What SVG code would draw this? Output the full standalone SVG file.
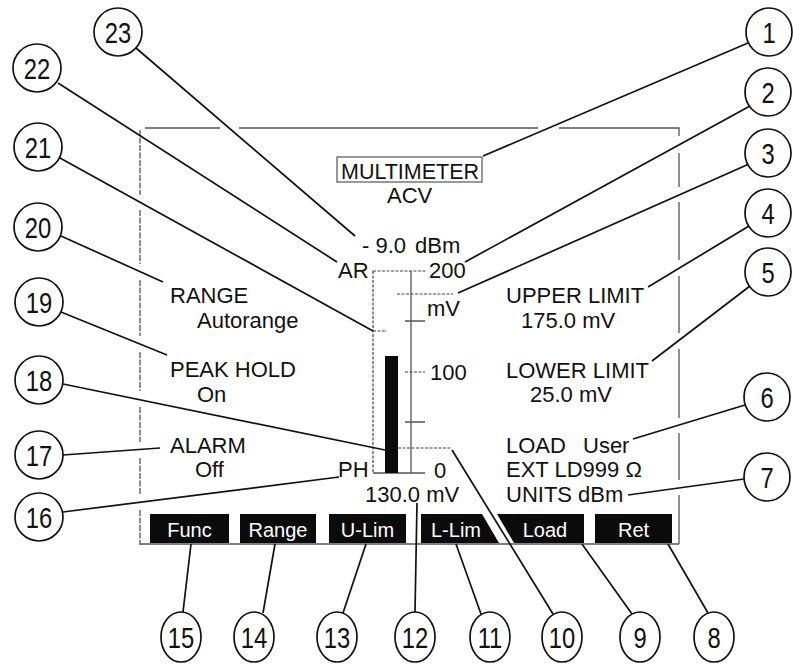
<svg xmlns="http://www.w3.org/2000/svg" width="793" height="664" viewBox="0 0 793 664">
<style>
.bg{fill:#fff}
.frame{fill:none;stroke:#555;stroke-width:1.3}
.dot{fill:none;stroke:#444;stroke-width:1.2;stroke-dasharray:3 1.5}
.axis{fill:none;stroke:#555;stroke-width:1.3}
.lbl{font-family:"Liberation Sans",Arial,sans-serif;font-size:22px;fill:#111}
.btn path{fill:#0b0b0b}
.btxt{font-family:"Liberation Sans",Arial,sans-serif;font-size:20px;fill:#fff;text-anchor:middle}
.num ellipse{fill:#fff;stroke:#111;stroke-width:1.7}
.num text{font-family:"Liberation Sans",Arial,sans-serif;font-size:29px;fill:#111;text-anchor:middle}
.lead line{stroke:#111;stroke-width:1.7}
</style>
<rect class="bg" x="0" y="0" width="793" height="664"/>

<g id="screen-frame">
<path class="frame" d="M145,128 H220 M239,128 H538 M559,128 H679 V136 M679,153 V187 M679,202 V260 M679,276 V333 M679,349 V418 M679,433 V480 M679,495 V544"/>
<path class="frame" stroke-dasharray="6 1.5" d="M140,130 V195 M140,210 V264 M140,280 V336 M140,352 V391 M140,407 V442 M140,458 V494 M140,510 V545"/>
<path class="frame" d="M140,544 H679"/>
</g>

<g id="title">
<rect x="337" y="157" width="145" height="25" fill="none" stroke="#555" stroke-width="1.2"/>
<text class="lbl" x="341" y="179" textLength="138" lengthAdjust="spacingAndGlyphs">MULTIMETER</text>
<text class="lbl" x="387" y="203">ACV</text>
</g>

<g id="reading">
<text class="lbl" x="362" y="253">- 9.0<tspan x="415">dBm</tspan></text>
<text class="lbl" x="338" y="278">AR</text>
<text class="lbl" x="338" y="477">PH</text>
<text class="lbl" x="365" y="502">130.0 mV</text>
</g>

<g id="bargraph">
<path class="dot" d="M373,271 H427"/>
<path class="dot" d="M373,271 V473"/>
<path class="axis" d="M411,271 V473 M373,473 H425"/>
<path class="axis" d="M405,321 H425 M405,422 H425"/>
<path class="dot" d="M405,372 H425 M373,331 H387"/>
<path class="dot" stroke-dasharray="5 5" d="M397,294 H453 M398,448 H452"/>
<rect x="385" y="356" width="13" height="117" fill="#0b0b0b"/>
<text class="lbl" x="429" y="278">200</text>
<text class="lbl" x="427" y="316">mV</text>
<text class="lbl" x="430" y="380">100</text>
<text class="lbl" x="434" y="478">0</text>
</g>

<g id="left-settings">
<text class="lbl" x="170" y="303">RANGE</text>
<text class="lbl" x="197" y="328">Autorange</text>
<text class="lbl" x="170" y="377">PEAK HOLD</text>
<text class="lbl" x="197" y="402">On</text>
<text class="lbl" x="170" y="453">ALARM</text>
<text class="lbl" x="195" y="477">Off</text>
</g>

<g id="right-settings">
<text class="lbl" x="506" y="303">UPPER LIMIT</text>
<text class="lbl" x="521" y="328">175.0 mV</text>
<text class="lbl" x="506" y="378">LOWER LIMIT</text>
<text class="lbl" x="530" y="402">25.0 mV</text>
<text class="lbl" x="506" y="453">LOAD<tspan x="583">User</tspan></text>
<text class="lbl" x="506" y="477">EXT LD999 Ω</text>
<text class="lbl" x="506" y="502">UNITS dBm</text>
</g>

<g id="softkeys">
<g id="key-func" class="btn"><path d="M150,514 H229 V543 H150 Z"/><text class="btxt" x="189.5" y="537">Func</text></g>
<g id="key-range" class="btn"><path d="M240,514 H316 V543 H240 Z"/><text class="btxt" x="278" y="537">Range</text></g>
<g id="key-ulim" class="btn"><path d="M329,514 H406 V543 H329 Z"/><text class="btxt" x="367.5" y="537">U-Lim</text></g>
<g id="key-llim" class="btn"><path d="M421,514 H482 L499,543 H421 Z"/><text class="btxt" x="456" y="537">L-Lim</text></g>
<g id="key-load" class="btn"><path d="M497,514 H584 V543 H514 Z"/><text class="btxt" x="545" y="537">Load</text></g>
<g id="key-ret" class="btn"><path d="M595,514 H672 V543 H595 Z"/><text class="btxt" x="633.5" y="537">Ret</text></g>
</g>

<g id="connectors" class="lead">
<line x1="748" y1="43" x2="483" y2="156"/>
<line x1="750" y1="106" x2="465" y2="262"/>
<line x1="749" y1="164" x2="458" y2="293"/>
<line x1="749" y1="226" x2="648" y2="287"/>
<line x1="750" y1="286" x2="652" y2="361"/>
<line x1="745" y1="405" x2="633" y2="439"/>
<line x1="744" y1="479" x2="628" y2="495"/>
<line x1="668" y1="544" x2="708" y2="613"/>
<line x1="582" y1="544" x2="632" y2="614"/>
<line x1="452" y1="450" x2="553" y2="614"/>
<line x1="456" y1="544" x2="481" y2="614"/>
<line x1="415" y1="612" x2="417" y2="503"/>
<line x1="366" y1="544" x2="343" y2="613"/>
<line x1="275" y1="544" x2="263" y2="613"/>
<line x1="191" y1="544" x2="183" y2="612"/>
<line x1="136" y1="48" x2="355" y2="236"/>
<line x1="58" y1="83" x2="337" y2="262"/>
<line x1="60" y1="158" x2="373" y2="331"/>
<line x1="61" y1="236" x2="163" y2="282"/>
<line x1="61" y1="312" x2="167" y2="355"/>
<line x1="63" y1="384" x2="385" y2="450"/>
<line x1="63" y1="455" x2="160" y2="448"/>
<line x1="63" y1="512" x2="339" y2="477"/>
</g>

<g id="callouts">
<g id="c1" class="num" transform="translate(769,32)"><ellipse rx="23" ry="24"/><text y="10.5" transform="scale(0.82,1)">1</text></g>
<g id="c2" class="num" transform="translate(768,92)"><ellipse rx="23" ry="24"/><text y="10.5" transform="scale(0.82,1)">2</text></g>
<g id="c3" class="num" transform="translate(768,153)"><ellipse rx="23" ry="24"/><text y="10.5" transform="scale(0.82,1)">3</text></g>
<g id="c4" class="num" transform="translate(768,213)"><ellipse rx="23" ry="24"/><text y="10.5" transform="scale(0.82,1)">4</text></g>
<g id="c5" class="num" transform="translate(768,272)"><ellipse rx="23" ry="24"/><text y="10.5" transform="scale(0.82,1)">5</text></g>
<g id="c6" class="num" transform="translate(767,397)"><ellipse rx="23" ry="24"/><text y="10.5" transform="scale(0.82,1)">6</text></g>
<g id="c7" class="num" transform="translate(767,477)"><ellipse rx="23" ry="24"/><text y="10.5" transform="scale(0.82,1)">7</text></g>
<g id="c8" class="num" transform="translate(714,637)"><ellipse rx="20" ry="25"/><text y="10.5" transform="scale(0.82,1)">8</text></g>
<g id="c9" class="num" transform="translate(640,637)"><ellipse rx="20" ry="25"/><text y="10.5" transform="scale(0.82,1)">9</text></g>
<g id="c10" class="num" transform="translate(562,637)"><ellipse rx="20" ry="25"/><text y="10.5" transform="scale(0.82,1)">10</text></g>
<g id="c11" class="num" transform="translate(490,637)"><ellipse rx="20" ry="25"/><text y="10.5" transform="scale(0.82,1)">11</text></g>
<g id="c12" class="num" transform="translate(415,637)"><ellipse rx="20" ry="25"/><text y="10.5" transform="scale(0.82,1)">12</text></g>
<g id="c13" class="num" transform="translate(337,637)"><ellipse rx="20" ry="25"/><text y="10.5" transform="scale(0.82,1)">13</text></g>
<g id="c14" class="num" transform="translate(254,637)"><ellipse rx="20" ry="25"/><text y="10.5" transform="scale(0.82,1)">14</text></g>
<g id="c15" class="num" transform="translate(181,637)"><ellipse rx="20" ry="25"/><text y="10.5" transform="scale(0.82,1)">15</text></g>
<g id="c16" class="num" transform="translate(39,517)"><ellipse rx="24" ry="24"/><text y="10.5" transform="scale(0.82,1)">16</text></g>
<g id="c17" class="num" transform="translate(39,455)"><ellipse rx="24" ry="24"/><text y="10.5" transform="scale(0.82,1)">17</text></g>
<g id="c18" class="num" transform="translate(39,380)"><ellipse rx="24" ry="24"/><text y="10.5" transform="scale(0.82,1)">18</text></g>
<g id="c19" class="num" transform="translate(39,302)"><ellipse rx="24" ry="24"/><text y="10.5" transform="scale(0.82,1)">19</text></g>
<g id="c20" class="num" transform="translate(38,227)"><ellipse rx="24" ry="24"/><text y="10.5" transform="scale(0.82,1)">20</text></g>
<g id="c21" class="num" transform="translate(38,147)"><ellipse rx="24" ry="24"/><text y="10.5" transform="scale(0.82,1)">21</text></g>
<g id="c22" class="num" transform="translate(37,68)"><ellipse rx="24" ry="24"/><text y="10.5" transform="scale(0.82,1)">22</text></g>
<g id="c23" class="num" transform="translate(118,32)"><ellipse rx="24" ry="24"/><text y="10.5" transform="scale(0.82,1)">23</text></g>
</g>
</svg>
